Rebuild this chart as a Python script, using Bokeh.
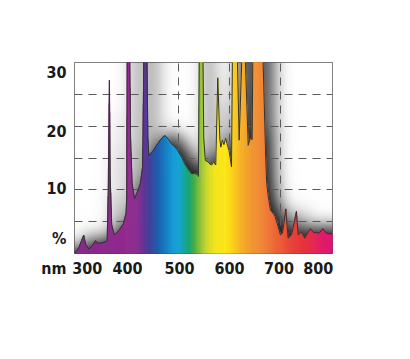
import numpy as np
from bokeh.plotting import figure
from bokeh.models import FixedTicker, Range1d
from bokeh.embed import file_html
from bokeh.resources import INLINE

# ---- data (nm, % relative intensity; values of 34 = off-scale peaks)
wavelength = [296, 305, 314, 318, 324, 330, 337, 342, 352, 360, 362, 364.5, 366, 369, 374,
              383, 392, 397, 398.5, 399.5, 404, 406, 409, 413.7, 418, 425, 429.6, 432.5,
              437.5, 440, 441.8, 446, 451, 457, 464, 470.5, 474, 477, 481, 485.5, 491,
              496.6, 501, 506.4, 511, 516, 521, 526, 531, 535.6, 537, 539, 541, 547.5,
              549.5, 552.6, 558, 562, 565, 568, 571, 573, 577, 581, 583, 586, 589, 592.5,
              596, 599, 604, 606, 614.5, 619, 625.5, 629.5, 636.7, 641, 644.5, 646, 664.5,
              668, 671, 673, 676, 680.4, 685.6, 689, 693.6, 700, 704, 710.4, 715, 721.6,
              731.3, 734.6, 741, 747.7, 751, 758.7, 765, 770, 776, 783, 790, 795, 802]
intensity = [0.0, 1.0, 2.9, 1.4, 0.7, 1.1, 2.0, 1.6, 1.7, 2.0, 9.0, 27.2, 12.0, 4.5, 2.9,
             3.6, 4.7, 6.3, 9.0, 34, 34, 18.0, 11.0, 8.6, 9.4, 10.9, 13.6, 34,
             34, 18.0, 15.4, 15.8, 16.2, 17.0, 17.8, 18.4, 18.5, 18.2, 17.9, 17.3, 16.9,
             16.4, 15.8, 15.1, 14.3, 13.6, 13.0, 12.5, 12.6, 12.4, 12.8, 12.1, 34, 34,
             18.0, 14.6, 14.4, 14.0, 13.9, 14.3, 14.1, 13.9, 27.6, 18.0, 16.7, 17.8, 17.1, 18.1,
             17.0, 16.2, 13.6, 34, 34, 17.8, 34, 34, 17.0, 18.1, 17.9, 34, 34,
             24.0, 15.0, 11.0, 8.9, 6.8, 6.3, 5.9, 4.7, 2.9, 3.2, 7.0, 2.4, 2.9,
             6.6, 2.9, 3.4, 2.4, 2.9, 3.9, 3.3, 3.3, 3.2, 3.9, 3.2, 3.1, 3.1]

x_tick_labels = ["300", "400", "500", "600", "700", "800"]
x_tick_pos = [321, 400, 502, 600, 697, 774]
y_tick_labels = ["%\nnm", "10", "20", "30"]
y_tick_pos = [0, 10.2, 19.2, 28.5]

X0, X1 = 296, 802
Y0, Y1 = 0, 30
FONT = "'DejaVu Sans Condensed', 'Liberation Sans Narrow', Roboto, sans-serif"

# rainbow colour stops (style)
stop_nm = [296, 360, 400, 420, 435, 448, 460, 475, 492, 503, 512, 522, 532, 545, 558,
           572, 592, 606, 622, 645, 665, 690, 720, 750, 775, 802]
stop_hex = ["#8a2b8c", "#8e2c8f", "#962c91", "#8a3193", "#5e3996", "#3a4aa0", "#2060b0",
            "#1a7fc4", "#1aa0da", "#1ba5d0", "#16a79e", "#1ea873", "#4cb048", "#9cc63a",
            "#d2dc2c", "#f6e51f", "#fde81c", "#fcd51e", "#f8b52a", "#f39836", "#f1883a",
            "#ee6a3a", "#e9483a", "#e7343f", "#e52262", "#e2177c"]
stop_rgb = np.array([[int(h[i:i + 2], 16) for i in (1, 3, 5)] for h in stop_hex], float)


def rainbow(nm):
    r, g, b = (np.interp(nm, stop_nm, stop_rgb[:, k]) for k in range(3))
    return "#%02x%02x%02x" % (int(round(r)), int(round(g)), int(round(b)))


FW, FH = 258, 191  # frame size in px
p = figure(width=394, height=343, output_backend="svg", toolbar_location=None,
           x_range=Range1d(X0, X1), y_range=Range1d(Y0, Y1),
           min_border_left=74, min_border_right=62, min_border_top=62, min_border_bottom=90)
p.background_fill_color = "white"
p.border_fill_color = "white"
p.outline_line_color = "#555555"
p.outline_line_width = 1

# grid
p.xgrid.ticker = FixedTicker(ticks=[400, 500, 600, 700])
p.ygrid.ticker = FixedTicker(ticks=[5, 10, 15, 20, 25])
for g in (p.xgrid, p.ygrid):
    g.grid_line_color = "#5a5a5a"
    g.grid_line_dash = "8 6"
    g.grid_line_width = 1

# axes
p.xaxis.ticker = FixedTicker(ticks=x_tick_pos)
p.xaxis.major_label_overrides = {pos: lab for pos, lab in zip(x_tick_pos, x_tick_labels)}
p.yaxis.ticker = FixedTicker(ticks=y_tick_pos)
p.yaxis.major_label_overrides = {pos: lab for pos, lab in zip(y_tick_pos, y_tick_labels)}
for ax in (p.xaxis, p.yaxis):
    ax.axis_line_color = None
    ax.major_tick_line_color = None
    ax.minor_tick_line_color = None
    ax.major_tick_out = 0
    ax.major_tick_in = 0
    ax.major_label_text_font = FONT
    ax.major_label_text_font_style = "bold"
    ax.major_label_text_font_size = "16px"
    ax.major_label_text_color = "#1a1a1a"
p.xaxis.major_label_standoff = 8
p.yaxis.major_label_standoff = 8
p.yaxis.major_label_text_line_height = 1.55

# soft drop shadow: blurred, offset raster of the area under the curve
wl = np.array(wavelength, float)
it = np.array(intensity, float)
xpp = (X1 - X0) / FW
ypp = (Y1 - Y0) / FH
M = 45
xc = X0 + (np.arange(-M, FW + M) + 0.5) * xpp
yc = Y0 + (np.arange(-M, FH + M) + 0.5) * ypp
shift_x, shift_y, sigma, strength = 8, 5, 8.5, 0.92
curve_mask = np.where(it >= 34, 100.0, it)
top = np.interp(xc - shift_x * xpp, wl, curve_mask)
mask = ((yc[:, None] - shift_y * ypp) < top[None, :]).astype(float)
k = np.arange(-3 * int(sigma), 3 * int(sigma) + 1)
kern = np.exp(-0.5 * (k / sigma) ** 2)
kern /= kern.sum()
pad = len(k) // 2
mp = np.pad(mask, pad, mode="edge")
blur = np.apply_along_axis(lambda r: np.convolve(r, kern, mode="valid"), 1, mp)
blur = np.apply_along_axis(lambda c: np.convolve(c, kern, mode="valid"), 0, blur)
blur = blur[M:M + FH, M:M + FW]
grey = (255 * (1 - strength * blur)).clip(0, 255).astype(np.uint8)
img = np.empty((FH, FW), dtype=np.uint32)
view = img.view(dtype=np.uint8).reshape((FH, FW, 4))
view[:, :, 0] = grey
view[:, :, 1] = grey
view[:, :, 2] = grey
view[:, :, 3] = 255
p.image_rgba(image=[img], x=X0, y=Y0, dw=X1 - X0, dh=Y1 - Y0, level="image")

# rainbow fill as thin slices under the curve
bounds = np.unique(np.concatenate([np.arange(X0, X1 + 0.01, 1.0), wl]))
yb = np.interp(bounds, wl, it)
rx, ry, rc = [], [], []
for a, b, ya, yb2 in zip(bounds[:-1], bounds[1:], yb[:-1], yb[1:]):
    rx.append([a, a, b, b])
    ry.append([0, ya, yb2, 0])
    rc.append(rainbow(0.5 * (a + b)))
p.patches(rx, ry, fill_color=rc, line_color=rc, line_width=0.7)

# outline of the curve
p.line(wl, it, line_color="#333333", line_width=1)

open("out.html", "w").write(file_html(p, INLINE))
